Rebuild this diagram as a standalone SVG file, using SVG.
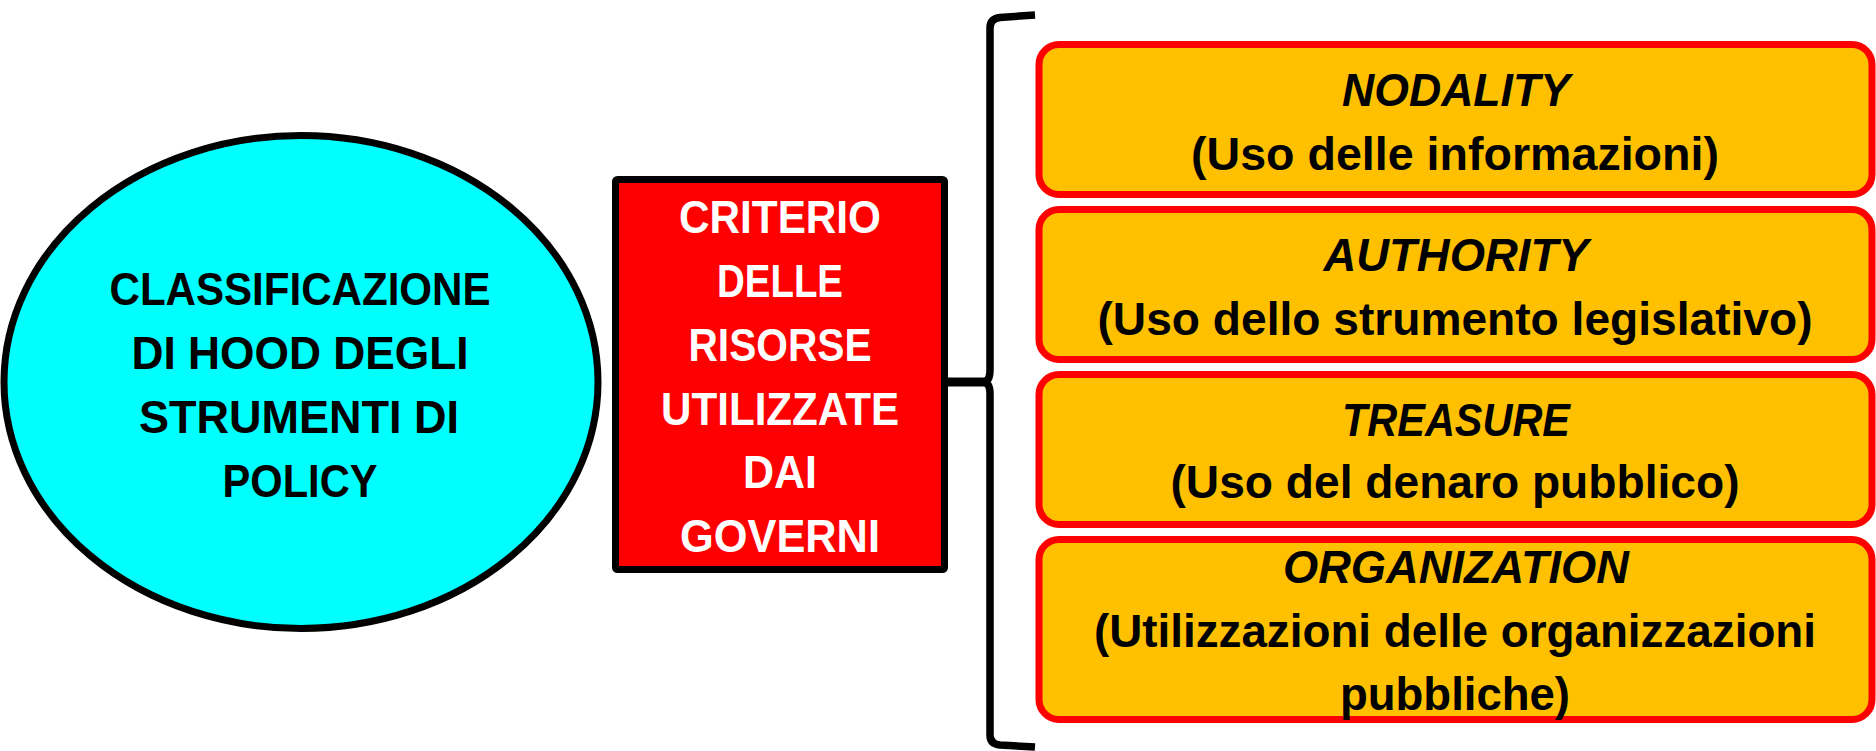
<svg xmlns="http://www.w3.org/2000/svg" width="1876" height="751" viewBox="0 0 1876 751">
<style>
.t{font-family:"Liberation Sans",Arial,sans-serif;font-weight:bold;font-size:46px;text-anchor:middle;}
.blk{fill:#000000;}
.wht{fill:#FFFFFF;}
.it{font-style:italic;}
.opt{fill:#FFC000;stroke:#FF0000;stroke-width:7;}
</style>
<rect width="1876" height="751" fill="#FFFFFF"/>
<g id="connectors" fill="none" stroke="#000000">
<line x1="946" y1="382" x2="988" y2="382" stroke-width="9"/>
<path d="M1035,15 L1000,17.5 Q990,18.5 990,28 L990,370 Q990,381 984,382 Q990,383 990,394 L990,735 Q990,744 1000,745 L1035,747" stroke-width="7.5" stroke-linejoin="round"/>
</g>
<g id="node-classificazione">
<ellipse cx="301" cy="382" rx="297" ry="246.5" fill="#00FFFF" stroke="#000000" stroke-width="7"/>
<text class="t blk" x="300" y="305" textLength="381" lengthAdjust="spacingAndGlyphs">CLASSIFICAZIONE</text>
<text class="t blk" x="300" y="369" textLength="337" lengthAdjust="spacingAndGlyphs">DI HOOD DEGLI</text>
<text class="t blk" x="299" y="433" textLength="320" lengthAdjust="spacingAndGlyphs">STRUMENTI DI</text>
<text class="t blk" x="300" y="497" textLength="155" lengthAdjust="spacingAndGlyphs">POLICY</text>
</g>
<g id="node-criterio">
<rect x="615.5" y="179.5" width="329" height="390" rx="2" fill="#FF0000" stroke="#000000" stroke-width="7"/>
<text class="t wht" x="780" y="233" textLength="202" lengthAdjust="spacingAndGlyphs">CRITERIO</text>
<text class="t wht" x="780" y="297" textLength="126" lengthAdjust="spacingAndGlyphs">DELLE</text>
<text class="t wht" x="780" y="361" textLength="183" lengthAdjust="spacingAndGlyphs">RISORSE</text>
<text class="t wht" x="780" y="425" textLength="238" lengthAdjust="spacingAndGlyphs">UTILIZZATE</text>
<text class="t wht" x="780" y="488" textLength="74" lengthAdjust="spacingAndGlyphs">DAI</text>
<text class="t wht" x="780" y="552" textLength="200" lengthAdjust="spacingAndGlyphs">GOVERNI</text>
</g>
<g id="node-nodality">
<rect class="opt" x="1039" y="44.5" width="833" height="150" rx="20"/>
<text class="t blk it" x="1456" y="106" textLength="228" lengthAdjust="spacingAndGlyphs">NODALITY</text>
<text class="t blk" x="1455" y="170" textLength="528" lengthAdjust="spacingAndGlyphs">(Uso delle informazioni)</text>
</g>
<g id="node-authority">
<rect class="opt" x="1039" y="209.5" width="833" height="150" rx="20"/>
<text class="t blk it" x="1456" y="271" textLength="265" lengthAdjust="spacingAndGlyphs">AUTHORITY</text>
<text class="t blk" x="1455" y="335" textLength="715" lengthAdjust="spacingAndGlyphs">(Uso dello strumento legislativo)</text>
</g>
<g id="node-treasure">
<rect class="opt" x="1039" y="374.5" width="833" height="150" rx="20"/>
<text class="t blk it" x="1456" y="436" textLength="228" lengthAdjust="spacingAndGlyphs">TREASURE</text>
<text class="t blk" x="1455" y="498" textLength="569" lengthAdjust="spacingAndGlyphs">(Uso del denaro pubblico)</text>
</g>
<g id="node-organization">
<rect class="opt" x="1039" y="539.5" width="833" height="180" rx="20"/>
<text class="t blk it" x="1456" y="583" textLength="346" lengthAdjust="spacingAndGlyphs">ORGANIZATION</text>
<text class="t blk" x="1455" y="647" textLength="722" lengthAdjust="spacingAndGlyphs">(Utilizzazioni delle organizzazioni</text>
<text class="t blk" x="1455" y="710" textLength="230" lengthAdjust="spacingAndGlyphs">pubbliche)</text>
</g>
</svg>
